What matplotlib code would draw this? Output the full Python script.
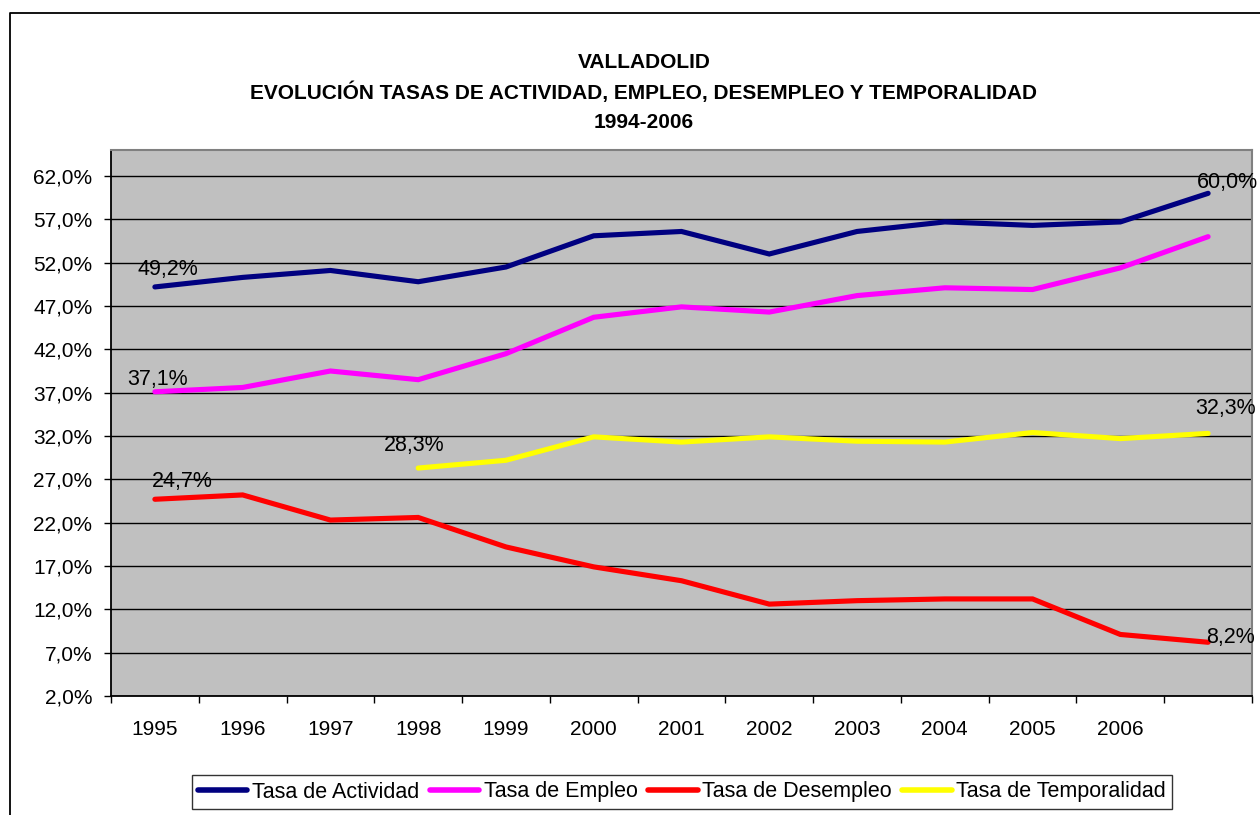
import numpy as np
import matplotlib
matplotlib.use("Agg")
import matplotlib.pyplot as plt
from matplotlib.lines import Line2D

plt.rcParams['font.family'] = ['Liberation Sans', 'DejaVu Sans']

categories = ["1995", "1996", "1997", "1998", "1999", "2000", "2001",
              "2002", "2003", "2004", "2005", "2006", ""]
actividad = [49.2, 50.3, 51.1, 49.8, 51.5, 55.1, 55.6, 53.0, 55.6, 56.7, 56.3, 56.7, 60.0]
empleo = [37.1, 37.6, 39.5, 38.5, 41.5, 45.7, 46.9, 46.3, 48.2, 49.1, 48.9, 51.4, 55.0]
desempleo = [24.7, 25.2, 22.3, 22.6, 19.2, 16.9, 15.3, 12.6, 13.0, 13.2, 13.2, 9.1, 8.2]
temporalidad = [np.nan, np.nan, np.nan, 28.3, 29.2, 31.9, 31.3, 31.9, 31.4, 31.3, 32.4, 31.7, 32.3]
series_names = ["Tasa de Actividad", "Tasa de Empleo", "Tasa de Desempleo", "Tasa de Temporalidad"]
series_colors = ["#000080", "#FF00FF", "#FF0000", "#FFFF00"]
title_lines = ["VALLADOLID",
               "EVOLUCIÓN TASAS DE ACTIVIDAD, EMPLEO, DESEMPLEO Y TEMPORALIDAD",
               "1994-2006"]
y_ticks = [2, 7, 12, 17, 22, 27, 32, 37, 42, 47, 52, 57, 62]

W, H = 1260, 815
fig = plt.figure(figsize=(W / 100, H / 100), dpi=100)
fig.patch.set_facecolor("white")

# outer chart frame (left and top edges visible)
fig.add_artist(Line2D([10 / W, 10 / W, 1.05], [-0.05, 1 - 12.5 / H, 1 - 12.5 / H],
                      transform=fig.transFigure, color="black", lw=1.3))

ax = fig.add_axes([111 / W, 1 - 696 / H, (1252 - 111) / W, (696 - 150) / H])
ax.set_facecolor("#C0C0C0")

x = np.arange(len(categories))
all_series = [actividad, empleo, desempleo, temporalidad]
for vals, name, col in zip(all_series, series_names, series_colors):
    ax.plot(x, vals, color=col, lw=3.7, label=name, solid_capstyle="round",
            solid_joinstyle="miter", zorder=3)

ax.set_xlim(-0.5, len(categories) - 0.5)
ax.set_ylim(2, 65)
ax.set_yticks(y_ticks)
ax.set_yticklabels([f"{v:.1f}%".replace(".", ",") for v in y_ticks])
ax.yaxis.grid(True, color="black", lw=1.0)
ax.set_axisbelow(True)

ax.set_xticks(x)
ax.set_xticklabels(categories)
ax.set_xticks(np.arange(len(categories) + 1) - 0.5, minor=True)
ax.tick_params(axis="x", which="major", length=0, pad=17.5, labelsize=15)
ax.tick_params(axis="x", which="minor", length=5, width=1, direction="out", color="black")
ax.tick_params(axis="y", which="major", length=5, width=1, direction="out",
               pad=8.5, labelsize=15)

for side in ["left", "bottom"]:
    ax.spines[side].set_color("black")
    ax.spines[side].set_linewidth(1.3)
for side in ["top", "right"]:
    ax.spines[side].set_color("#808080")
    ax.spines[side].set_linewidth(1.5)

def fmt(v):
    return f"{v:.1f}%".replace(".", ",")

# data labels: (series, index, dx px, dy px, ha)
labels = [
    (actividad, 0, 13, 17, "center"),
    (actividad, 12, 19, 11, "center"),
    (empleo, 0, 3, 12, "center"),
    (desempleo, 0, 27, 18, "center"),
    (desempleo, 12, -2, 5, "left"),
    (temporalidad, 3, -4, 23, "center"),
    (temporalidad, 12, 17, 25, "center"),
]
for vals, i, dx, dy, ha in labels:
    ax.annotate(fmt(vals[i]), (x[i], vals[i]), xytext=(dx, dy),
                textcoords="offset pixels", ha=ha, va="center",
                fontsize=15.5, color="black", zorder=5, annotation_clip=False)

# title
for k, t in enumerate(title_lines):
    fig.text(644 / W, 1 - (62 + 30 * k) / H, t, ha="center", va="center",
             fontsize=15, fontweight="bold")

leg = fig.legend(loc="center", bbox_to_anchor=(682 / W, 1 - 792 / H), ncol=4,
                 frameon=True, fancybox=False, fontsize=15.5, handlelength=2.3,
                 handletextpad=0.2, columnspacing=0.5, borderpad=0.3,
                 borderaxespad=0)
leg.get_frame().set_edgecolor("black")
leg.get_frame().set_linewidth(1.0)
for h in leg.get_lines():
    h.set_linewidth(4)

fig.savefig("out.png", dpi=100)
